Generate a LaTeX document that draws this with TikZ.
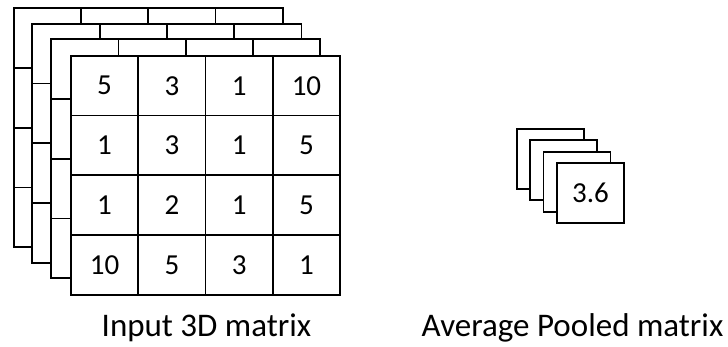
\documentclass[tikz,border=0pt]{standalone}
\usepackage{fontspec}
\setmainfont{Carlito}
\begin{document}
\begin{tikzpicture}[x=1pt,y=-1pt,
  ln/.style={line width=1.8pt,black},
  cell/.style={ln,draw,minimum width=67.3pt,minimum height=59.7pt,inner sep=0pt,anchor=north west,font=\fontsize{29}{29}\selectfont},
  lbl/.style={anchor=base,font=\fontsize{33}{33}\selectfont,inner sep=0pt}]
\useasboundingbox (0,0) rectangle (728,347);
\def\cw{67.3}\def\ch{59.7}
% back layers of the input
\foreach \k/\dx/\dy in {0/-57.3/-47.5,1/-38.6/-32,2/-19.8/-16.5}{
  \fill[white] (70+\dx,55+\dy) rectangle (70+4*\cw+\dx,55+4*\ch+\dy);
  \foreach \i in {0,...,3}{\foreach \j in {0,...,3}{
    \node[cell] (b\k-\i\j) at (70+\j*\cw+\dx,55+\i*\ch+\dy) {};
  }}
}
% front layer
\fill[white] (70,55) rectangle (70+4*\cw,55+4*\ch);
\foreach \row [count=\i from 0] in {{5,3,1,10},{1,3,1,5},{1,2,1,5},{10,5,3,1}}{
  \foreach \v [count=\j from 0] in \row{
    \node[cell] (c\i\j) at (70+\j*\cw,55+\i*\ch) {\raisebox{-2pt}{\v}};
  }
}
% pooled stack
\foreach \k/\dx/\dy in {0/-40/-34,1/-27/-22.5,2/-13.5/-11}{
  \node[cell,fill=white,minimum width=67pt,minimum height=60pt] (p\k) at (556+\dx,162+\dy) {};
}
\node[cell,fill=white,minimum width=67pt,minimum height=60pt] (p3) at (556,162) {\raisebox{-2pt}{3.6}};
% labels
\node[lbl] (lin) at (206.5,336) {Input 3D matrix};
\node[lbl] (lout) at (572.5,336) {Average Pooled matrix};
\end{tikzpicture}
\end{document}
